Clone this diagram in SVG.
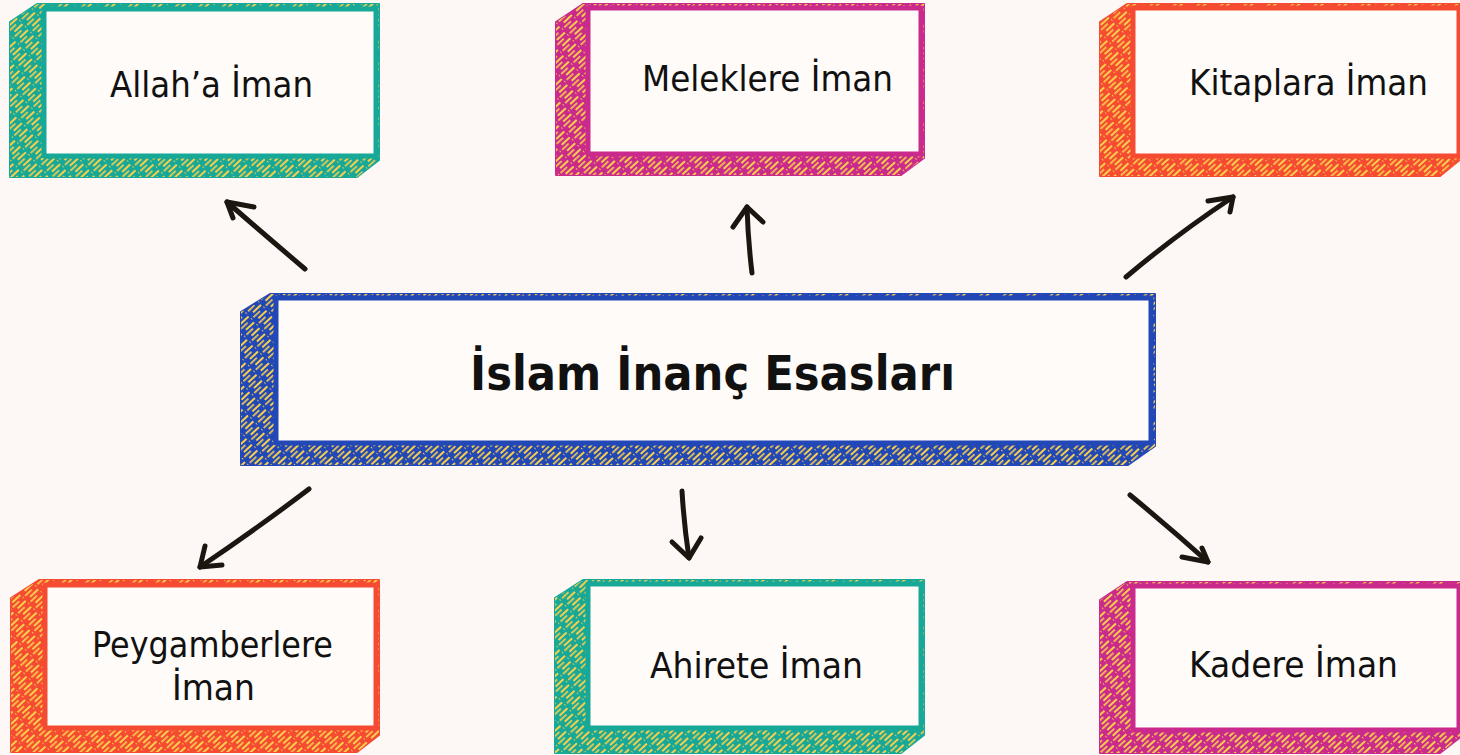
<svg xmlns="http://www.w3.org/2000/svg" width="1460" height="755" viewBox="0 0 1460 755">
<defs>
<pattern id="hatch" patternUnits="userSpaceOnUse" width="8" height="17" patternTransform="rotate(47)">
<rect x="0" y="0" width="2" height="11" fill="#f8cf4b"/>
<rect x="4" y="5" width="1.6" height="9" fill="#f8cf4b"/>
<rect x="4" y="16" width="1.6" height="1" fill="#f8cf4b"/>
</pattern>
<style>
.side{stroke-width:2;stroke-linejoin:round}
.hatch{fill:url(#hatch);stroke:none}
.face{fill:#fffbf8;stroke-width:5;stroke-linejoin:round}
.teal{fill:#17a898;stroke:#17a898}
.mag{fill:#c92a8b;stroke:#c92a8b}
.red{fill:#f54b33;stroke:#f54b33}
.blue{fill:#2247b6;stroke:#2247b6}
.face.teal,.face.mag,.face.red,.face.blue{fill:#fffbf8}
.lbl{font-family:"DejaVu Sans","Liberation Sans",sans-serif;font-size:36px;fill:#111;text-anchor:middle}
.title{font-family:"DejaVu Sans","Liberation Sans",sans-serif;font-size:48px;font-weight:bold;fill:#111;text-anchor:middle}
.arr{fill:none;stroke:#1c1611;stroke-width:5;stroke-linecap:round;stroke-linejoin:round}
</style>
</defs>
<rect x="0" y="0" width="1460" height="755" fill="#fdf8f5"/>

<g id="node-allah">
<path class="side teal" d="M10,22 L37,4 L379,4 L379,160 L357,177 L10,177 Z"/>
<path class="hatch" d="M10,22 L37,4 L379,4 L379,160 L357,177 L10,177 Z"/>
<rect class="face teal" x="44" y="9" width="332" height="147"/>
<text class="lbl" x="211.5" y="97" textLength="203" lengthAdjust="spacingAndGlyphs">Allah’a İman</text>
</g>

<g id="node-melek">
<path class="side mag" d="M556,22 L583,4 L924,4 L924,158 L901,175 L556,175 Z"/>
<path class="hatch" d="M556,22 L583,4 L924,4 L924,158 L901,175 L556,175 Z"/>
<rect class="face mag" x="588" y="8" width="333" height="146"/>
<text class="lbl" x="767.5" y="91" textLength="251" lengthAdjust="spacingAndGlyphs">Meleklere İman</text>
</g>

<g id="node-kitap">
<path class="side red" d="M1100,22 L1127,4 L1462,4 L1462,158 L1440,176 L1100,176 Z"/>
<path class="hatch" d="M1100,22 L1127,4 L1462,4 L1462,158 L1440,176 L1100,176 Z"/>
<rect class="face red" x="1133" y="8" width="326" height="148"/>
<text class="lbl" x="1308.5" y="95" textLength="239" lengthAdjust="spacingAndGlyphs">Kitaplara İman</text>
</g>

<g id="node-center">
<path class="side blue" d="M241,312 L270,294 L1155,294 L1155,446 L1128,465 L241,465 Z"/>
<path class="hatch" d="M241,312 L270,294 L1155,294 L1155,446 L1128,465 L241,465 Z"/>
<rect class="face blue" x="276" y="298" width="875" height="145"/>
<text class="title" x="712.5" y="390" textLength="485" lengthAdjust="spacingAndGlyphs">İslam İnanç Esasları</text>
</g>

<g id="node-peygamber">
<path class="side red" d="M11,598 L39,580 L379,580 L379,735 L357,752 L11,752 Z"/>
<path class="hatch" d="M11,598 L39,580 L379,580 L379,735 L357,752 L11,752 Z"/>
<rect class="face red" x="45" y="585" width="331" height="143"/>
<text class="lbl" x="212.5" y="657" textLength="241" lengthAdjust="spacingAndGlyphs">Peygamberlere</text>
<text class="lbl" x="213.5" y="700" textLength="83" lengthAdjust="spacingAndGlyphs">İman</text>
</g>

<g id="node-ahiret">
<path class="side teal" d="M555,598 L583,580 L924,580 L924,735 L901,753 L555,753 Z"/>
<path class="hatch" d="M555,598 L583,580 L924,580 L924,735 L901,753 L555,753 Z"/>
<rect class="face teal" x="588" y="584" width="333" height="144"/>
<text class="lbl" x="756.5" y="678" textLength="213" lengthAdjust="spacingAndGlyphs">Ahirete İman</text>
</g>

<g id="node-kader">
<path class="side mag" d="M1100,600 L1127,582 L1462,582 L1462,736 L1440,753 L1100,753 Z"/>
<path class="hatch" d="M1100,600 L1127,582 L1462,582 L1462,736 L1440,753 L1100,753 Z"/>
<rect class="face mag" x="1133" y="586" width="326" height="144"/>
<text class="lbl" x="1293.5" y="677" textLength="209" lengthAdjust="spacingAndGlyphs">Kadere İman</text>
</g>

<g id="connectors">
<path class="arr" d="M305,269 Q265,235 227,202"/>
<path class="arr" d="M254,207 L227,202 L233,218"/>
<path class="arr" d="M752,273 Q748,240 747,207"/>
<path class="arr" d="M733,227 L747,207 L763,222"/>
<path class="arr" d="M1126,277 Q1177,234 1233,197"/>
<path class="arr" d="M1208,201 L1233,197 L1230,212"/>
<path class="arr" d="M309,489 Q255,530 200,567"/>
<path class="arr" d="M205,546 L200,567 L222,565"/>
<path class="arr" d="M682,491 Q684,525 689,558"/>
<path class="arr" d="M672,542 L689,558 L701,538"/>
<path class="arr" d="M1130,495 Q1170,528 1208,562"/>
<path class="arr" d="M1182,557 L1208,562 L1202,548"/>
</g>
</svg>
